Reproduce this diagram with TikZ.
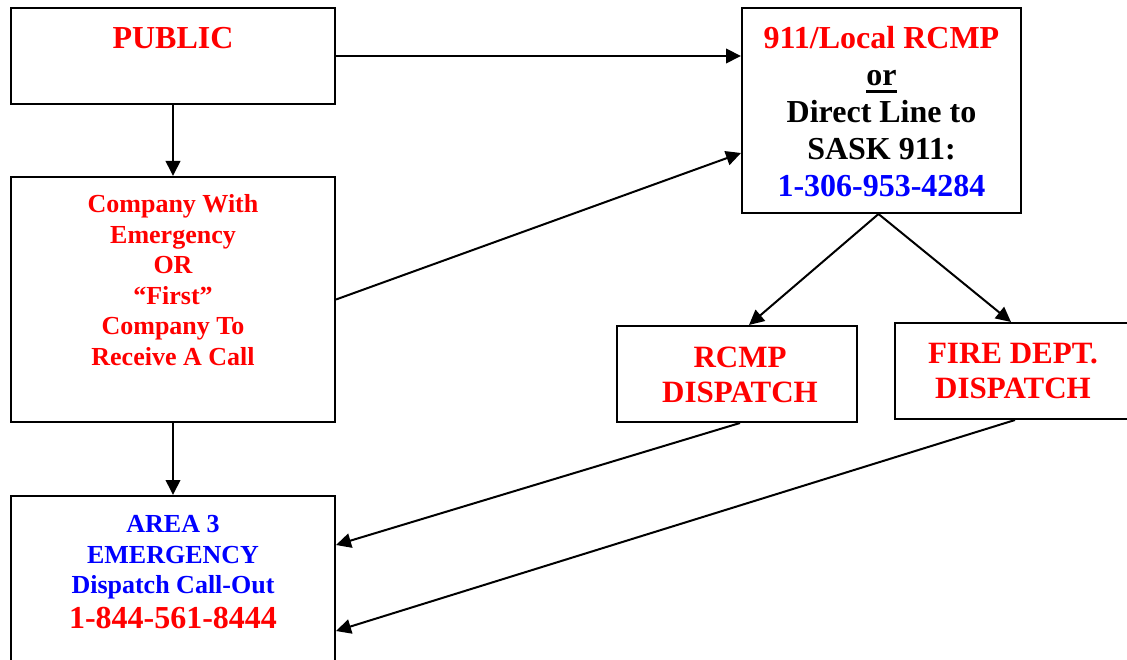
\documentclass[tikz,border=0pt]{standalone}
\usepackage{fontspec}
\setmainfont{Liberation Serif}
\usetikzlibrary{arrows.meta,calc}
\definecolor{tred}{RGB}{255,0,0}
\definecolor{tblue}{RGB}{0,0,255}
\newcommand\thickul[1]{\vtop{\hbox{#1}\kern4pt\hrule height 3pt}}
\begin{document}
\begin{tikzpicture}[x=1pt,y=-1pt,
  box/.style={draw=black,line width=2pt,inner sep=0pt},
  arr/.style={line width=2pt,-{Triangle[length=15pt,width=14.5pt]}},
  txt/.style={align=center,inner sep=0pt},
  big/.style={font=\fontsize{32}{37}\selectfont\bfseries},
  mid/.style={font=\fontsize{31}{35}\selectfont\bfseries},
  small/.style={font=\fontsize{26}{30.5}\selectfont\bfseries},
]
\useasboundingbox (0,0) rectangle (1127,660);
% boxes
\node[box,minimum width=324pt,minimum height=96pt]  (pub)  at (173,56) {};
\node[box,minimum width=324pt,minimum height=245pt] (comp) at (173,299.5) {};
\node[box,minimum width=324pt,minimum height=204pt] (area) at (173,598) {};
\node[box,minimum width=279pt,minimum height=205pt] (p911) at (881.5,110.5) {};
\node[box,minimum width=240pt,minimum height=96pt]  (rcmp) at (737,374) {};
\node[box,minimum width=236pt,minimum height=96pt]  (fire) at (1013,371) {};
% texts
\node[txt,big,text=tred] (pubtxt) at (173,38) {PUBLIC};
\node[txt,small,text=tred] (comptxt) at (173,280) {Company With\\Emergency\\OR\\“First”\\Company To\\Receive A Call};
\node[txt,big] (p911txt) at (881.5,112) {\textcolor{tred}{911/Local RCMP}\\\thickul{or}\\Direct Line to\\SASK 911:\\\textcolor{tblue}{1-306-953-4284}};
\node[txt,small,text=tblue] (areatxt) at (173,572) {AREA 3\\EMERGENCY\\Dispatch Call-Out\\[4pt]{\fontsize{32}{37}\selectfont\color{tred}1-844-561-8444}};
\node[txt,mid,text=tred] (rcmptxt) at (740,375) {RCMP\\DISPATCH};
\node[txt,mid,text=tred] (firetxt) at (1013,371) {FIRE DEPT.\\DISPATCH};
% connectors
\draw[arr] (pub.east) -- (p911.west |- pub.east);
\draw[arr] (pub.south) -- (comp.north);
\draw[arr] (comp.east) -- ($(p911.north west)+(0,146)$);
\draw[arr] (comp.south) -- (area.north);
\draw[arr] ($(p911.south)+(-3,0)$) -- ($(rcmp.north)+(12,0)$);
\draw[arr] ($(p911.south)+(-3,0)$) -- ($(fire.north)+(-2,0)$);
\draw[arr] ($(rcmp.south)+(3,0)$) -- ($(area.north east)+(0,50)$);
\draw[arr] ($(fire.south)+(2,0)$) -- ($(area.north east)+(0,136)$);
\end{tikzpicture}
\end{document}
